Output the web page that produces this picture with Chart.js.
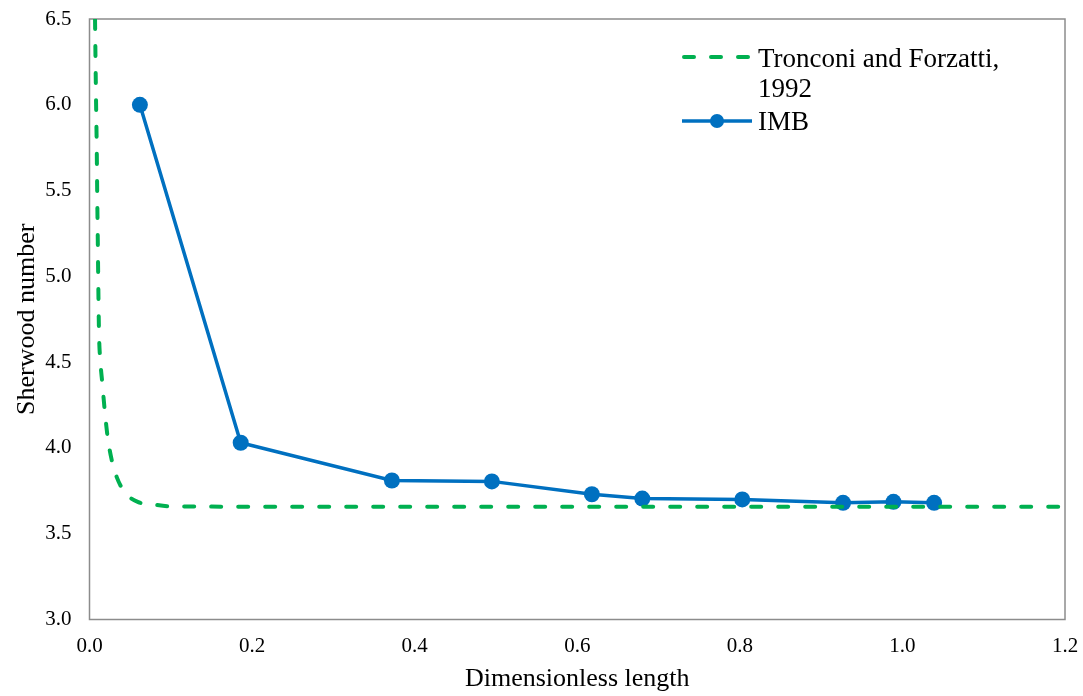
<!DOCTYPE html>
<html>
<head>
<meta charset="utf-8">
<script src="https://cdn.jsdelivr.net/npm/chart.js@4/dist/chart.umd.min.js"></script>
<style>
  body { margin: 0; background: #fff; }
</style>
</head>
<body>
<canvas id="chart" width="1083" height="696"></canvas>
<script>
// IMB model results
var imbX = [0.062, 0.186, 0.372, 0.495, 0.618, 0.680, 0.803, 0.927, 0.989, 1.039];
var imbY = [6.00, 4.03, 3.81, 3.805, 3.73, 3.705, 3.70, 3.68, 3.686, 3.68];

// Tronconi and Forzatti, 1992 correlation
var tfX = [0.0068, 0.008, 0.0089, 0.0096, 0.0101, 0.0108, 0.0117, 0.0133, 0.0157, 0.0191, 0.0224, 0.0273, 0.0335, 0.0437, 0.060, 0.0765, 0.097, 0.26, 1.2];
var tfY = [6.5, 6.04, 5.75, 5.43, 5.25, 4.96, 4.67, 4.51, 4.38, 4.20, 4.06, 3.93, 3.83, 3.74, 3.684, 3.672, 3.66, 3.657, 3.657];

var xTicks = [0, 0.2, 0.4, 0.6, 0.8, 1.0, 1.2];
var yTicks = [3.0, 3.5, 4.0, 4.5, 5.0, 5.5, 6.0, 6.5];

var legendTf = ['Tronconi and Forzatti,', '1992'];
var legendImb = 'IMB';

var green = '#00B050';
var blue = '#0070C0';
var serif = "'Liberation Serif', 'Times New Roman', serif";

function pts(xs, ys) {
  var out = [];
  for (var i = 0; i < xs.length; i++) out.push({x: xs[i], y: ys[i]});
  return out;
}

// box round the plot and the legend in the top right corner
var boxPlugin = {
  id: 'box',
  beforeDatasetsDraw: function(chart) {
    var a = chart.chartArea, ctx = chart.ctx;
    ctx.save();
    ctx.strokeStyle = '#8c8c8c';
    ctx.lineWidth = 1.5;
    ctx.strokeRect(a.left, a.top, a.right - a.left, a.bottom - a.top);
    ctx.restore();
  },
  afterDraw: function(chart) {
    var ctx = chart.ctx;
    ctx.save();
    ctx.lineCap = 'round';
    ctx.strokeStyle = green;
    ctx.lineWidth = 4;
    ctx.setLineDash([10, 17]);
    ctx.beginPath();
    ctx.moveTo(684, 57);
    ctx.lineTo(748, 57);
    ctx.stroke();

    ctx.setLineDash([]);
    ctx.lineCap = 'butt';
    ctx.strokeStyle = blue;
    ctx.lineWidth = 3.5;
    ctx.beginPath();
    ctx.moveTo(682, 121);
    ctx.lineTo(752, 121);
    ctx.stroke();
    ctx.fillStyle = blue;
    ctx.beginPath();
    ctx.arc(717, 121, 7, 0, Math.PI * 2);
    ctx.fill();

    ctx.fillStyle = '#000';
    ctx.font = '27px ' + serif;
    ctx.textBaseline = 'alphabetic';
    ctx.textAlign = 'left';
    ctx.fillText(legendTf[0], 758, 67);
    ctx.fillText(legendTf[1], 758, 97);
    ctx.fillText(legendImb, 758, 130);
    ctx.restore();
  }
};

var ctx = document.getElementById('chart').getContext('2d');
var chart = new Chart(ctx, {
  type: 'scatter',
  data: {
    datasets: [{
      label: legendTf.join(' '),
      data: pts(tfX, tfY),
      showLine: true,
      borderColor: green,
      borderWidth: 4,
      borderDash: [10, 17],
      borderCapStyle: 'round',
      cubicInterpolationMode: 'monotone',
      pointRadius: 0,
      pointHoverRadius: 0
    }, {
      label: legendImb,
      data: pts(imbX, imbY),
      showLine: true,
      borderColor: blue,
      backgroundColor: blue,
      borderWidth: 3.5,
      tension: 0,
      pointRadius: 8,
      pointBorderWidth: 0,
      pointBackgroundColor: blue
    }]
  },
  options: {
    responsive: false,
    animation: false,
    layout: { padding: { top: 19, right: 18, bottom: 1, left: 0 } },
    plugins: {
      legend: { display: false },
      tooltip: { enabled: false }
    },
    scales: {
      x: {
        type: 'linear',
        min: 0,
        max: 1.2,
        afterBuildTicks: function(s) { s.ticks = xTicks.map(function(v) { return {value: v}; }); },
        afterFit: function(s) { s.height = 75.5; s.paddingLeft = 0; s.paddingRight = 0; },
        grid: { display: false, drawTicks: false },
        border: { display: false },
        ticks: {
          padding: 14,
          color: '#000',
          font: { family: serif, size: 21 },
          callback: function(v) { return v.toFixed(1); }
        },
        title: {
          display: true,
          text: 'Dimensionless length',
          color: '#000',
          padding: { top: 0, bottom: 0 },
          font: { family: serif, size: 26 }
        }
      },
      y: {
        type: 'linear',
        min: 3,
        max: 6.5,
        afterBuildTicks: function(s) { s.ticks = yTicks.map(function(v) { return {value: v}; }); },
        afterFit: function(s) { s.width = 89.5; s.paddingTop = 0; s.paddingBottom = 0; },
        grid: { display: false, drawTicks: false },
        border: { display: false },
        ticks: {
          padding: 18,
          color: '#000',
          font: { family: serif, size: 21 },
          callback: function(v) { return v.toFixed(1); }
        },
        title: {
          display: true,
          text: 'Sherwood number',
          color: '#000',
          padding: { top: 12, bottom: 0 },
          font: { family: serif, size: 26 }
        }
      }
    }
  },
  plugins: [boxPlugin]
});
</script>
</body>
</html>
